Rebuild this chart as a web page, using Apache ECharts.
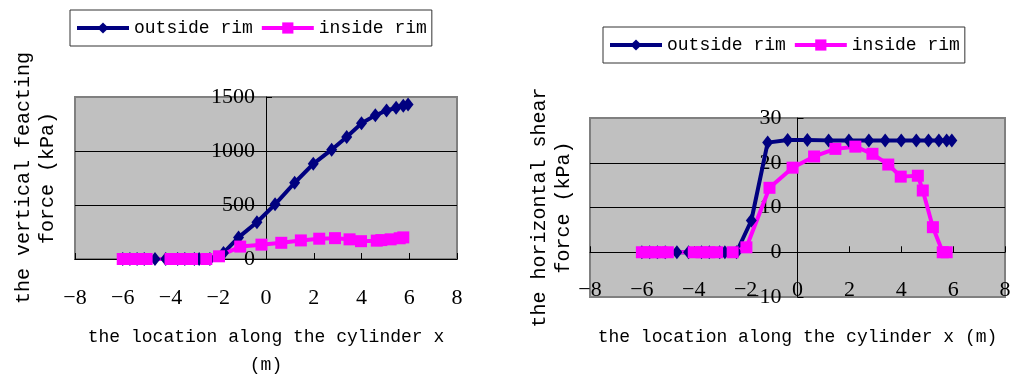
<!DOCTYPE html>
<html>
<head>
<meta charset="utf-8">
<script src="https://cdn.jsdelivr.net/npm/echarts@6/dist/echarts.min.js"></script>
<style>
  html, body { margin: 0; padding: 0; background: #fff; }
  #rimChart { width: 1010px; height: 376px; }
</style>
</head>
<body>
<div id="rimChart"></div>
<script>
// x positions along the cylinder (m)
const xOut = [-6, -5.7, -5.4, -5.1, -4.65, -4.2, -3.7, -3.4, -3.0, -2.8, -2.35, -1.78, -1.15, -0.38, 0.38, 1.2, 1.98, 2.75, 3.38, 4.0, 4.58, 5.05, 5.45, 5.75, 5.95]
const xIn = [-6, -5.75, -5.5, -5.25, -5.0, -4.0, -3.7, -3.4, -3.1, -2.5, -1.97, -1.08, -0.19, 0.64, 1.46, 2.23, 2.89, 3.5, 3.98, 4.64, 4.83, 5.22, 5.6, 5.75]
// vertical reacting force (kPa)
const vertOut = [0, 0, 0, 0, 0, 0, 0, 0, 0, 0, 0, 56, 200, 340, 506, 706, 881, 1012, 1130, 1256, 1330, 1375, 1400, 1418, 1430]
const vertIn = [0, 0, 0, 0, 0, 0, 0, 0, 0, 0, 25, 115, 133, 150, 172, 188, 193, 182, 165, 170, 175, 182, 192, 200]
// horizontal shear force (kPa)
const shearOut = [0, 0, 0, 0, 0, 0, 0, 0, 0, 0, 0, 7.1, 24.5, 25.1, 25.1, 25, 25, 25, 25, 25, 25, 25, 25, 25, 25]
const shearIn = [0, 0, 0, 0, 0, 0, 0, 0, 0, 0, 1.1, 14.4, 18.9, 21.4, 23.1, 23.6, 22.0, 19.6, 16.9, 17.1, 13.8, 5.6, 0, 0]
const xTicks = { min: -8, max: 8, interval: 2 }
const vertTicks = { min: 0, max: 1500, interval: 500 }
const shearTicks = { min: -10, max: 30, interval: 10 }
const seriesNames = ['outside rim', 'inside rim']

const monoFont = 'Liberation Mono'
const numFont = 'Liberation Serif'

// plot boxes (px)
const box = [
  { left: 75, top: 97, width: 382, height: 162 },
  { left: 590, top: 118, width: 415, height: 179 }
]

function pairs (xs, ys) {
  return xs.map((x, i) => [x, ys[i]])
}

// pixel shift that puts an axis on the zero of the other axis
function zeroShift (ticks, size) {
  return -(0 - ticks.min) / (ticks.max - ticks.min) * size
}

function numLabel (v) {
  return String(v).replace('-', '\u2212')
}

function makeSeries (name, xs, ys, idx) {
  const outside = name === seriesNames[0]
  return {
    name: name,
    type: 'line',
    xAxisIndex: idx,
    yAxisIndex: idx,
    data: pairs(xs, ys),
    symbol: outside ? 'diamond' : 'rect',
    symbolSize: outside ? [11, 14] : 12,
    color: outside ? '#000080' : '#ff00ff',
    lineStyle: { width: 4 },
    itemStyle: { borderWidth: 0 },
    animation: false
  }
}

function xAxisCfg (idx, yTicks, labelMargin, nameGap, name) {
  return {
    type: 'value',
    gridIndex: idx,
    position: 'bottom',
    offset: zeroShift(yTicks, box[idx].height),
    min: xTicks.min,
    max: xTicks.max,
    interval: xTicks.interval,
    axisLine: { onZero: false, lineStyle: { color: '#000', width: 1 } },
    axisTick: { inside: true, length: 6, lineStyle: { color: '#000' } },
    axisLabel: {
      margin: labelMargin,
      color: '#000',
      fontFamily: numFont,
      fontSize: 22,
      formatter: numLabel
    },
    splitLine: { show: false },
    name: name,
    nameLocation: 'middle',
    nameGap: nameGap,
    nameTextStyle: { color: '#000', fontFamily: monoFont, fontSize: 18, lineHeight: 28 }
  }
}

function yAxisCfg (idx, ticks, labelMargin, nameGap, name) {
  return {
    type: 'value',
    gridIndex: idx,
    position: 'left',
    offset: zeroShift(xTicks, box[idx].width),
    min: ticks.min,
    max: ticks.max,
    interval: ticks.interval,
    axisLine: { onZero: false, lineStyle: { color: '#000', width: 1 } },
    axisTick: { inside: true, length: 6, lineStyle: { color: '#000' } },
    axisLabel: {
      margin: labelMargin,
      color: '#000',
      fontFamily: numFont,
      fontSize: 22,
      formatter: numLabel
    },
    splitLine: { show: true, showMinLine: false, showMaxLine: false, lineStyle: { color: '#000', width: 1 } },
    name: name,
    nameLocation: 'middle',
    nameGap: nameGap,
    nameTextStyle: { color: '#000', fontFamily: monoFont, fontSize: 20, lineHeight: 24 }
  }
}

function legendCfg (left, top) {
  return {
    left: left,
    top: top,
    data: seriesNames,
    backgroundColor: '#fff',
    borderColor: '#333',
    borderWidth: 1,
    padding: [9, 5],
    itemWidth: 52,
    itemHeight: 14,
    itemGap: 7,
    lineStyle: { width: 4 },
    textStyle: { color: '#000', fontFamily: monoFont, fontSize: 18 }
  }
}

function gridCfg (b) {
  return {
    left: b.left,
    top: b.top,
    width: b.width,
    height: b.height,
    outerBoundsMode: 'none',
    containLabel: false,
    show: true,
    backgroundColor: '#c0c0c0',
    borderColor: '#808080',
    borderWidth: 2
  }
}

const chart = echarts.init(document.getElementById('rimChart'))
chart.setOption({
  animation: false,
  legend: [legendCfg(70, 10), legendCfg(603, 27)],
  grid: [gridCfg(box[0]), gridCfg(box[1])],
  xAxis: [
    xAxisCfg(0, vertTicks, 28, 64, 'the location along the cylinder x\n(m)'),
    xAxisCfg(1, shearTicks, 27, 71, 'the location along the cylinder x (m)')
  ],
  yAxis: [
    yAxisCfg(0, vertTicks, 11, 206, 'the vertical feacting\nforce (kPa)'),
    yAxisCfg(1, shearTicks, 16, 222, 'the horizontal shear\nforce (kPa)')
  ],
  series: [
    makeSeries(seriesNames[0], xOut, vertOut, 0),
    makeSeries(seriesNames[1], xIn, vertIn, 0),
    makeSeries(seriesNames[0], xOut, shearOut, 1),
    makeSeries(seriesNames[1], xIn, shearIn, 1)
  ]
})
</script>
</body>
</html>
